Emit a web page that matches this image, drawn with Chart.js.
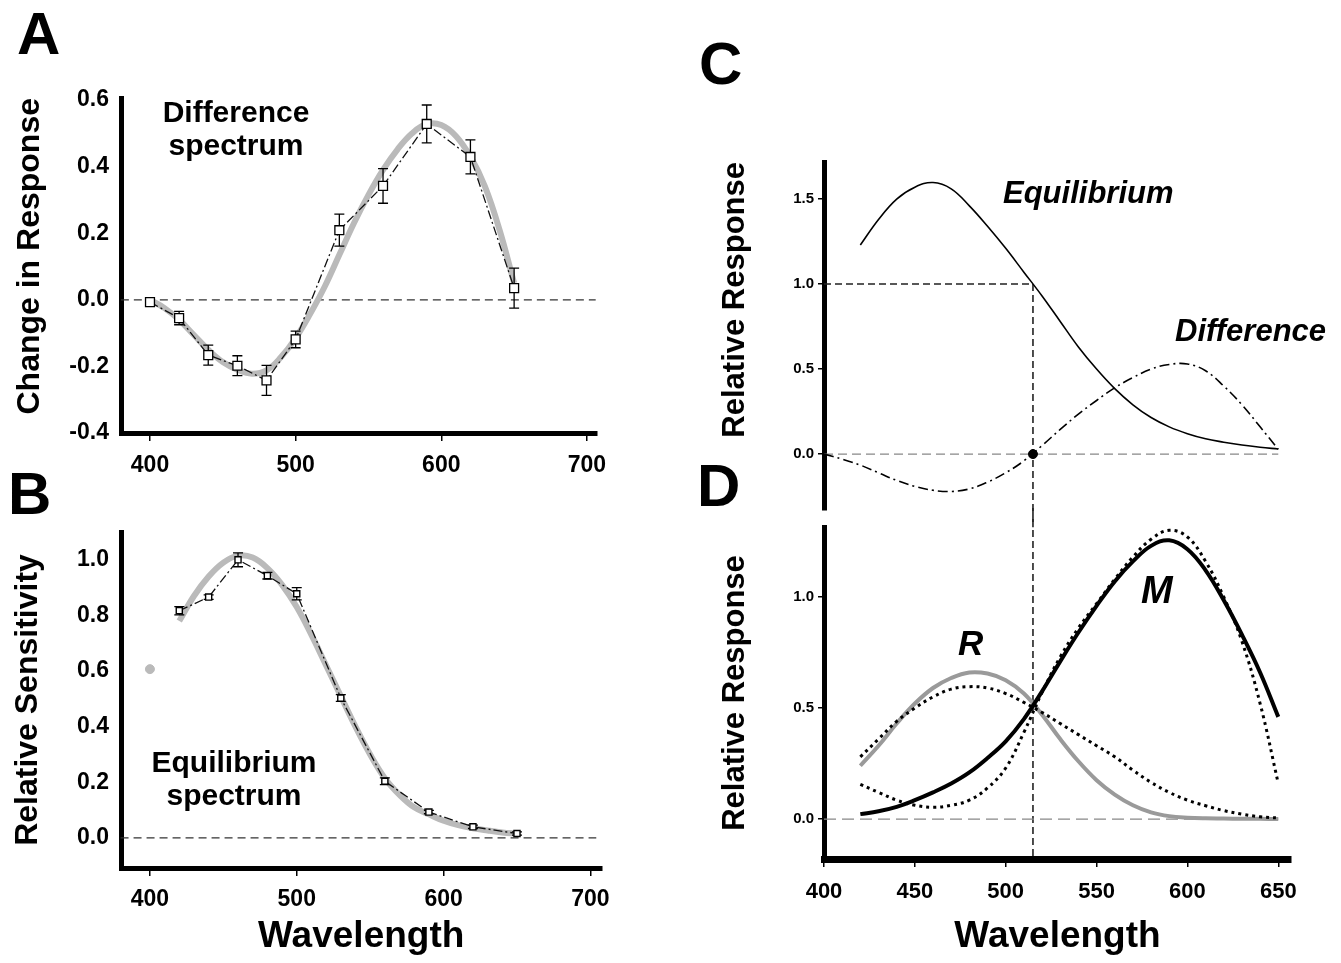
<!DOCTYPE html>
<html>
<head>
<meta charset="utf-8">
<script src="https://cdn.jsdelivr.net/npm/chart.js@4.4.1/dist/chart.umd.min.js"></script>
<style>
  body { margin: 0; background: #fff; }
  #wrap { position: relative; width: 1341px; height: 963px; overflow: hidden;
          font-family: 'Liberation Sans', Arial, sans-serif; font-weight: bold; color: #000; }
  canvas { position: absolute; }
  .lbl { position: absolute; white-space: nowrap; line-height: 1; }
  .panel { font-size: 60px; }
  .note { font-size: 30px; line-height: 33px; text-align: center; width: 300px; }
  .it { font-style: italic; }
</style>
</head>
<body>
<div id="wrap">
  <canvas id="chartA" width="620" height="420" style="left:0;top:60px"></canvas>
  <canvas id="chartB" width="620" height="483" style="left:0;top:480px"></canvas>
  <canvas id="chartC" width="661" height="440" style="left:680px;top:100px"></canvas>
  <canvas id="chartD" width="661" height="483" style="left:680px;top:480px"></canvas>

  <div class="lbl panel" style="left:17px;top:4px">A</div>
  <div class="lbl panel" style="left:8px;top:464px">B</div>
  <div class="lbl panel" style="left:699px;top:34px">C</div>
  <div class="lbl panel" style="left:697px;top:456px">D</div>

  <div class="lbl note" style="left:86px;top:95px">Difference<br>spectrum</div>
  <div class="lbl note" style="left:84px;top:745px">Equilibrium<br>spectrum</div>
  <div class="lbl it" style="left:1003px;top:177px;font-size:31px">Equilibrium</div>
  <div class="lbl it" style="left:1175px;top:315px;font-size:31px">Difference</div>
  <div class="lbl it" style="left:958px;top:625px;font-size:35px">R</div>
  <div class="lbl it" style="left:1141px;top:571px;font-size:38px">M</div>
</div>

<script>
Chart.defaults.font.family = "'Liberation Sans', Arial, sans-serif";
Chart.defaults.font.weight = 'bold';
Chart.defaults.color = '#000';

//Panel A: difference spectrum, measured points + fit
var waveA = [400, 420, 440, 460, 480, 500, 530, 560, 590, 620, 650];
var diffMean = [-0.007, -0.055, -0.166, -0.198, -0.242, -0.119, 0.209, 0.342, 0.528, 0.429, 0.035];
var diffErr = [0.01, 0.02, 0.03, 0.03, 0.045, 0.025, 0.048, 0.052, 0.057, 0.051, 0.06];
var fitWaveA = [400, 410, 420, 430, 440, 450, 460, 470, 480, 490, 500, 510, 520, 530, 540, 550, 560, 570, 580, 590, 600, 610, 620, 630, 640, 650];
var diffFit = [0.0, -0.025, -0.06, -0.105, -0.15, -0.187, -0.21, -0.222, -0.212, -0.172, -0.115, -0.042, 0.04, 0.135, 0.23, 0.315, 0.39, 0.452, 0.5, 0.528, 0.525, 0.492, 0.43, 0.34, 0.21, 0.05];

//Panel B: equilibrium spectrum
var waveB = [420, 440, 460, 480, 500, 530, 560, 590, 620, 650];
var equilMean = [0.817, 0.866, 1.0, 0.943, 0.878, 0.503, 0.204, 0.093, 0.04, 0.016];
var equilErr = [0.015, 0.008, 0.025, 0.012, 0.022, 0.012, 0.012, 0.006, 0.006, 0.006];
var extraWave = [400];
var extraVal = [0.607];
var fitWaveB = [420, 430, 440, 450, 460, 470, 480, 490, 500, 510, 520, 530, 540, 550, 560, 570, 580, 590, 600, 610, 620, 630, 640, 650];
var equilFit = [0.78, 0.87, 0.94, 0.99, 1.015, 1.008, 0.97, 0.91, 0.83, 0.73, 0.62, 0.51, 0.4, 0.3, 0.215, 0.155, 0.11, 0.085, 0.062, 0.046, 0.035, 0.027, 0.02, 0.015];

//Panel C: relative response curves
var waveC = [420, 430, 440, 450, 460, 470, 480, 490, 500, 510, 520, 530, 540, 550, 560, 570, 580, 590, 600, 610, 620, 630, 640, 650];
var equilResp = [1.23, 1.38, 1.5, 1.57, 1.597, 1.56, 1.46, 1.34, 1.21, 1.07, 0.93, 0.78, 0.63, 0.5, 0.385, 0.29, 0.215, 0.16, 0.12, 0.09, 0.07, 0.053, 0.04, 0.03];
var waveDiff = [400, 410, 420, 430, 440, 450, 460, 470, 480, 490, 500, 510, 520, 530, 540, 550, 560, 570, 580, 590, 600, 610, 620, 630, 640, 650];
var diffResp = [0.0, -0.03, -0.065, -0.11, -0.155, -0.19, -0.213, -0.22, -0.205, -0.165, -0.11, -0.04, 0.05, 0.145, 0.235, 0.315, 0.39, 0.45, 0.5, 0.527, 0.53, 0.49, 0.4, 0.29, 0.16, 0.028];
var crossWave = 515;

//Panel D: R and M curves with dotted model curves
var waveD = [420, 430, 440, 450, 460, 470, 480, 490, 500, 510, 520, 530, 540, 550, 560, 570, 580, 590, 600, 610, 620, 630, 640, 650];
var respR = [0.24, 0.33, 0.43, 0.52, 0.59, 0.635, 0.66, 0.655, 0.625, 0.565, 0.47, 0.36, 0.26, 0.175, 0.11, 0.062, 0.03, 0.013, 0.006, 0.003, 0.002, 0.001, 0.001, 0];
var respM = [0.022, 0.035, 0.055, 0.085, 0.12, 0.16, 0.21, 0.275, 0.35, 0.45, 0.575, 0.71, 0.84, 0.96, 1.07, 1.16, 1.23, 1.255, 1.215, 1.12, 0.985, 0.83, 0.66, 0.46];
var modelR = [0.28, 0.36, 0.44, 0.5, 0.55, 0.585, 0.596, 0.59, 0.565, 0.525, 0.48, 0.43, 0.38, 0.33, 0.28, 0.22, 0.165, 0.12, 0.085, 0.06, 0.038, 0.022, 0.01, 0.005];
var modelM = [0.156, 0.12, 0.085, 0.062, 0.053, 0.062, 0.085, 0.14, 0.23, 0.39, 0.57, 0.73, 0.86, 0.97, 1.08, 1.18, 1.26, 1.3, 1.27, 1.16, 1.0, 0.8, 0.52, 0.16];

//Tick labels
var ticksAB_x = [400, 500, 600, 700];
var ticksA_y = [-0.4, -0.2, 0.0, 0.2, 0.4, 0.6];
var ticksB_y = [0.0, 0.2, 0.4, 0.6, 0.8, 1.0];
var ticksC_y = [0.0, 0.5, 1.0, 1.5];
var ticksD_y = [0.0, 0.5, 1.0];
var ticksD_x = [400, 450, 500, 550, 600, 650];

function pts(xs, ys) {
  return xs.map(function(x, i) { return {x: x, y: ys[i]}; });
}

//draws error bars of a dataset just before the dataset itself
var errorBars = {
  id: 'errorBars',
  beforeDatasetDraw: function(chart, args) {
    var ds = chart.data.datasets[args.index];
    if (!ds.errors) return;
    var ctx = chart.ctx, xs = chart.scales.x, ys = chart.scales.y;
    ctx.save();
    ctx.strokeStyle = '#000';
    ctx.lineWidth = 1.3;
    ds.data.forEach(function(p, i) {
      var x = xs.getPixelForValue(p.x);
      var t = ys.getPixelForValue(p.y + ds.errors[i]);
      var b = ys.getPixelForValue(p.y - ds.errors[i]);
      ctx.beginPath();
      ctx.moveTo(x, t); ctx.lineTo(x, b);
      ctx.moveTo(x - ds.capHalf, t); ctx.lineTo(x + ds.capHalf, t);
      ctx.moveTo(x - ds.capHalf, b); ctx.lineTo(x + ds.capHalf, b);
      ctx.stroke();
    });
    ctx.restore();
  }
};

function yScale(o) {
  return {
    type: 'linear', min: o.min, max: o.max,
    afterFit: function(s) { s.width = o.width; },
    afterBuildTicks: function(s) { s.ticks = o.ticks.map(function(v) { return {value: v}; }); },
    ticks: { autoSkip: false, font: {size: o.size}, padding: o.pad, color: '#000',
             callback: function(v) { return Number(v).toFixed(1); } },
    grid: { display: o.tick > 0, drawOnChartArea: false, tickLength: o.tick, color: '#000', lineWidth: 1.5 },
    border: { display: true, width: 5, color: '#000' },
    title: { display: true, text: o.title, color: '#000', font: {size: o.titleSize},
             padding: {top: o.titlePad, bottom: 0}, align: o.align || 'center' }
  };
}

function xScale(o) {
  return {
    type: 'linear', min: o.min, max: o.max, display: o.display !== false,
    afterFit: function(s) { s.height = o.height; },
    afterBuildTicks: function(s) { s.ticks = o.ticks.map(function(v) { return {value: v}; }); },
    ticks: { autoSkip: false, maxRotation: 0, font: {size: o.size}, padding: o.pad, color: '#000',
             callback: function(v) { return String(v); } },
    grid: { display: true, drawOnChartArea: false, tickLength: 8, color: '#000', lineWidth: 1.5 },
    border: { display: true, width: o.border || 5, color: '#000' },
    title: { display: !!o.title, text: o.title, color: '#000', font: {size: 37},
             padding: {top: 0, bottom: o.titlePad || 0} }
  };
}

function baseOptions(padding, scales) {
  return {
    responsive: false, animation: false, devicePixelRatio: 1,
    layout: { padding: padding },
    plugins: { legend: { display: false }, tooltip: { enabled: false } },
    scales: scales
  };
}

function refLine(xs, ys, color, dash, width) {
  return { data: pts(xs, ys), showLine: true, borderColor: color, borderWidth: width,
           borderDash: dash, pointRadius: 0, order: 5, clip: false };
}

function curve(xs, ys, color, width, dash, order) {
  return { data: pts(xs, ys), showLine: true, borderColor: color, borderWidth: width,
           borderDash: dash || [], tension: 0.4, pointRadius: 0, order: order };
}

//Panel A
new Chart(document.getElementById('chartA'), {
  type: 'scatter',
  data: { datasets: [
    { data: pts(waveA, diffMean), errors: diffErr, capHalf: 5, showLine: true,
      borderColor: '#111', borderWidth: 1.3, borderDash: [9, 3, 2, 3],
      pointStyle: 'rect', pointRadius: 6.3, pointBackgroundColor: '#fff',
      pointBorderColor: '#000', pointBorderWidth: 1.3, order: 0 },
    curve(fitWaveA, diffFit, '#bababa', 6, null, 2),
    refLine([380, 706], [0, 0], '#333', [8, 5], 1.3)
  ]},
  options: baseOptions({top: 38, right: 23, left: 0, bottom: 0}, {
    x: xScale({min: 380.1, max: 706.9, height: 47, ticks: ticksAB_x, size: 23, pad: 11}),
    y: yScale({min: -0.4, max: 0.606, width: 121, ticks: ticksA_y, size: 23, pad: 12, tick: 0,
               title: 'Change in Response', titleSize: 32, titlePad: 11, align: 'end'})
  }),
  plugins: [errorBars]
});

//Panel B
new Chart(document.getElementById('chartB'), {
  type: 'scatter',
  data: { datasets: [
    { data: pts(waveB, equilMean), errors: equilErr, capHalf: 5, showLine: true,
      borderColor: '#111', borderWidth: 1.3, borderDash: [9, 3, 2, 3],
      pointStyle: 'rect', pointRadius: 4.3, pointBackgroundColor: '#fff',
      pointBorderColor: '#000', pointBorderWidth: 1.4, order: 0 },
    curve(fitWaveB, equilFit, '#bababa', 6, null, 2),
    { data: pts(extraWave, extraVal), pointRadius: 4.5, pointBackgroundColor: '#bababa',
      pointBorderColor: '#bababa', order: 1 },
    refLine([380, 704], [0, 0], '#333', [8, 5], 1.3)
  ]},
  options: baseOptions({top: 52, right: 18, left: 0, bottom: 0}, {
    x: xScale({min: 380.3, max: 707.5, height: 95, ticks: ticksAB_x, size: 23, pad: 10,
               title: 'Wavelength', titlePad: 4}),
    y: yScale({min: -0.108, max: 1.1, width: 121, ticks: ticksB_y, size: 23, pad: 12, tick: 0,
               title: 'Relative Sensitivity', titleSize: 32, titlePad: 9})
  }),
  plugins: [errorBars]
});

//Panel C
new Chart(document.getElementById('chartC'), {
  type: 'scatter',
  data: { datasets: [
    { data: pts([crossWave], [0]), pointRadius: 4.5, pointBackgroundColor: '#000',
      pointBorderColor: '#000', order: 0 },
    curve(waveC, equilResp, '#000', 1.6, null, 1),
    curve(waveDiff, diffResp, '#000', 1.6, [10, 4, 2, 4], 1),
    refLine([400, 650], [0, 0], '#888', [9, 5], 1.3),
    refLine([400, crossWave], [1, 1], '#222', [7, 4], 1.6),
    refLine([crossWave, crossWave], [1, -0.43], '#222', [7, 4], 1.6)
  ]},
  options: baseOptions({top: 62, right: 50, left: 0, bottom: 30}, {
    x: xScale({min: 400, max: 657, height: 0, ticks: ticksD_x, size: 22, pad: 8, display: false}),
    y: yScale({min: -0.329, max: 1.718, width: 144, ticks: ticksC_y, size: 15, pad: 4, tick: 6,
               title: 'Relative Response', titleSize: 31, titlePad: 37, align: 'end'})
  })
});

//Panel D
new Chart(document.getElementById('chartD'), {
  type: 'scatter',
  data: { datasets: [
    curve(waveD, modelR, '#000', 3, [3, 4], 0),
    curve(waveD, modelM, '#000', 3, [3, 4], 0),
    curve(waveD, respM, '#000', 4, null, 1),
    curve(waveD, respR, '#9a9a9a', 4, null, 2),
    refLine([400, 650], [0, 0], '#888', [12, 6], 1.2),
    refLine([crossWave, crossWave], [1.4, -0.18], '#222', [7, 4], 1.6)
  ]},
  options: baseOptions({top: 47, right: 50, left: 0, bottom: 0}, {
    x: xScale({min: 400, max: 657, height: 104, ticks: ticksD_x, size: 22, pad: 12, border: 7,
               title: 'Wavelength', titlePad: 4}),
    y: yScale({min: -0.18, max: 1.315, width: 144, ticks: ticksD_y, size: 15, pad: 4, tick: 6,
               title: 'Relative Response', titleSize: 31, titlePad: 37})
  })
});
</script>
</body>
</html>
